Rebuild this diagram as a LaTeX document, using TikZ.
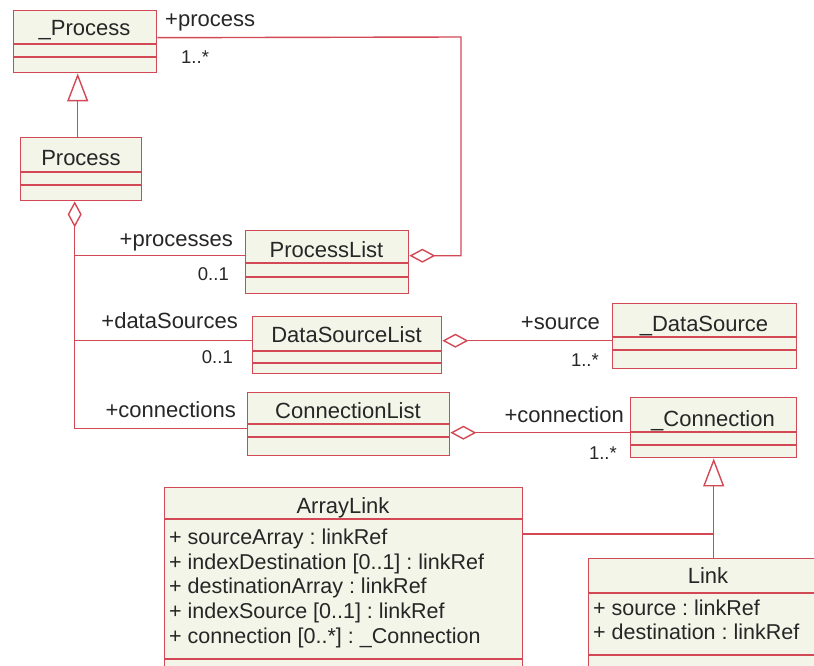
\documentclass[tikz,border=0pt]{standalone}
\usepackage{fontspec}
\setmainfont{Liberation Sans}
\usepackage{tikz}
\usetikzlibrary{arrows.meta}
\definecolor{umlred}{RGB}{210,72,84}
\definecolor{umlfill}{RGB}{243,245,232}
\definecolor{umltext}{RGB}{38,38,38}
\frenchspacing

\begin{document}
\begin{tikzpicture}[x=1pt,y=-1pt,
  cls/.style={draw=umlred,fill=umlfill,line width=1.4pt,inner sep=0pt,anchor=north west},
  sep/.style={draw=umlred,line width=1.4pt},
  assoc/.style={draw=umlred,line width=1.4pt},
  gen/.style={assoc,-{Triangle[open,length=28pt,width=21pt]}},
  agg/.style={assoc,{Diamond[open,length=26pt,width=14pt]}-},
  cname/.style={text=umltext,font=\fontsize{22}{26}\selectfont,anchor=base},
  attr/.style={text=umltext,font=\fontsize{21.5}{25}\selectfont,anchor=base west,inner sep=0pt},
  role/.style={text=umltext,font=\fontsize{22}{26}\selectfont,inner sep=0pt},
  mult/.style={text=umltext,font=\fontsize{18.5}{22}\selectfont,inner sep=0pt}]
\useasboundingbox (0,0) rectangle (814,666);
\clip (0,0) rectangle (814,666);
% classes
\node[cls,minimum width=143,minimum height=62] (uproc) at (13,10) {};
\draw[sep] (13,44) -- (156,44) (13,57) -- (156,57);
\node[cname] (uprocname) at (84.5,36) {\_Process};

\node[cls,minimum width=121,minimum height=63] (proc) at (20,137) {};
\draw[sep] (20,172) -- (141,172) (20,185) -- (141,185);
\node[cname] (procname) at (81,166) {Process};

\node[cls,minimum width=163,minimum height=63] (plist) at (245,230) {};
\draw[sep] (245,263) -- (408,263) (245,277) -- (408,277);
\node[cname] (plistname) at (326.5,257) {ProcessList};

\node[cls,minimum width=189,minimum height=57] (dslist) at (252,316) {};
\draw[sep] (252,351) -- (441,351) (252,363) -- (441,363);
\node[cname] (dslistname) at (346.5,342) {DataSourceList};

\node[cls,minimum width=202,minimum height=63] (clist) at (247,392) {};
\draw[sep] (247,424) -- (449,424) (247,437) -- (449,437);
\node[cname] (clistname) at (348,418) {ConnectionList};

\node[cls,minimum width=184,minimum height=65] (udsrc) at (612,303) {};
\draw[sep] (612,337) -- (796,337) (612,350) -- (796,350);
\node[cname] (udsrcname) at (704,331) {\_DataSource};

\node[cls,minimum width=166,minimum height=60] (uconn) at (630,397) {};
\draw[sep] (630,432) -- (796,432) (630,445) -- (796,445);
\node[cname] (uconnname) at (713,426) {\_Connection};

\node[cls,minimum width=358,minimum height=200] (alink) at (164,487) {};
\draw[sep] (164,519) -- (522,519) (164,659) -- (522,659);
\node[cname] (alinkname) at (343,513) {ArrayLink};
\node[attr] (a1) at (169,544) {+ sourceArray : linkRef};
\node[attr] (a2) at (169,569) {+ indexDestination [0..1] : linkRef};
\node[attr] (a3) at (169,593) {+ destinationArray : linkRef};
\node[attr] (a4) at (169,618) {+ indexSource [0..1] : linkRef};
\node[attr] (a5) at (169,643) {+ connection [0..*] : \_Connection};

\node[cls,minimum width=242,minimum height=130] (link) at (588,558) {};
\draw[sep] (588,593) -- (830,593) (588,655) -- (830,655);
\node[cname] (linkname) at (708,583) {Link};
\node[attr] (l1) at (593,615) {+ source : linkRef};
\node[attr] (l2) at (593,639) {+ destination : linkRef};

% generalizations
\draw[gen] ([xshift=-3.5pt]proc.north) -- ([xshift=-7.5pt]uproc.south);
\draw[gen] ([xshift=4pt]link.north) -- (uconn.south);
\draw[assoc] ([yshift=-47pt]alink.north east) -- ([yshift=-47pt]alink.north east -| uconn.south);

% aggregations
\coordinate (bend) at (461,37);
\coordinate (trunk) at ([xshift=-6.5pt]proc.south);
\draw[agg] ([yshift=6.5pt]plist.east) -| (bend) -- ([yshift=4pt]uproc.east);
\draw[agg] (trunk) |- ([yshift=-4.5pt]clist.west);
\draw[assoc] ([yshift=6.5pt]plist.west) -- ([yshift=6.5pt]plist.west -| trunk);
\draw[assoc] ([yshift=4.5pt]dslist.west) -- ([yshift=4.5pt]dslist.west -| trunk);
\draw[agg] ([yshift=4.5pt]dslist.east) -- ([yshift=4.5pt]dslist.east -| udsrc.west);
\draw[agg] ([yshift=-8.5pt]clist.east) -- ([yshift=-8.5pt]clist.east -| uconn.west);

% roles and multiplicities
\node[role,anchor=base west] (rproc) at (165,27) {+process};
\node[mult,anchor=base west] (mproc) at (181,64) {1..*};
\node[role,anchor=base east] (rprocs) at (233,246) {+processes};
\node[mult,anchor=base east] (mprocs) at (229,280) {0..1};
\node[role,anchor=base east] (rdsrcs) at (238,328) {+dataSources};
\node[mult,anchor=base east] (mdsrcs) at (233,363) {0..1};
\node[role,anchor=base east] (rconns) at (236,417) {+connections};
\node[role,anchor=base east] (rsrc) at (600,329) {+source};
\node[mult,anchor=base east] (msrc) at (599,366) {1..*};
\node[role,anchor=base east] (rconn) at (624,422) {+connection};
\node[mult,anchor=base east] (mconn) at (617,459) {1..*};
\end{tikzpicture}
\end{document}
